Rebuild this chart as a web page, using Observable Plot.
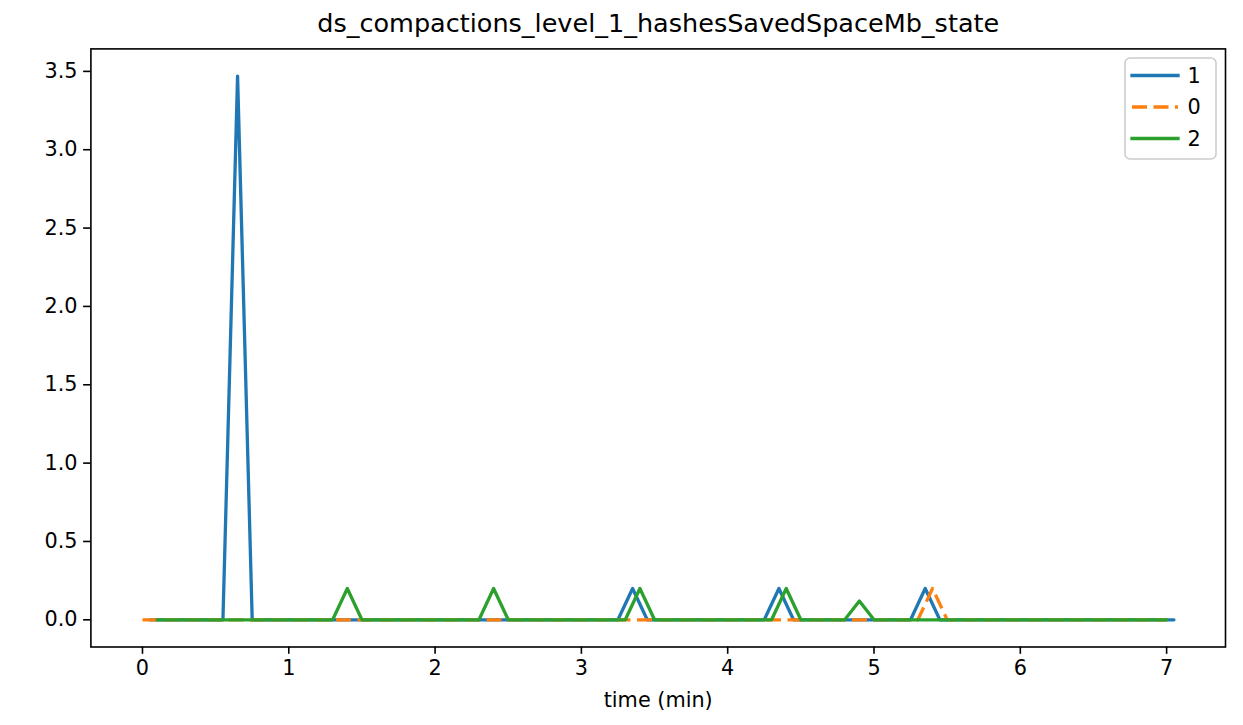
<!DOCTYPE html>
<html>
<head>
<meta charset="utf-8">
<script src="https://cdn.jsdelivr.net/npm/d3@7"></script>
<script src="https://cdn.jsdelivr.net/npm/@observablehq/plot@0.6"></script>
<style>
  html, body { margin: 0; padding: 0; background: white; }
  #chart svg { display: block; }
</style>
</head>
<body>
<div id="chart"></div>
<script>
// ---- data ----
const title = "ds_compactions_level_1_hashesSavedSpaceMb_state";
const xLabel = "time (min)";
const seriesNames = ["1", "0", "2"];
const seriesColors = ["#1f77b4", "#ff7f0e", "#2ca02c"];
const seriesDash = [null, "15,6.5", null];

// series "1" (breakpoints of the line)
const t1 = [0.05, 0.55, 0.65, 0.75, 3.25, 3.35, 3.45, 4.25, 4.35, 4.45, 5.25, 5.35, 5.45, 7.05];
const v1 = [0, 0, 3.47, 0, 0, 0.2, 0, 0, 0.2, 0, 0, 0.2, 0, 0];
// series "0"
const t0 = [0.0, 5.3, 5.4, 5.5, 7.0];
const v0 = [0, 0, 0.2, 0, 0];
// series "2"
const t2 = [0.1, 1.3, 1.4, 1.5, 2.3, 2.4, 2.5, 3.3, 3.4, 3.5, 4.3, 4.4, 4.5, 4.8, 4.9, 5.0, 7.0];
const v2 = [0, 0, 0.2, 0, 0, 0.2, 0, 0, 0.2, 0, 0, 0.2, 0, 0, 0.12, 0, 0];

const xTicks = [0, 1, 2, 3, 4, 5, 6, 7];
const yTicks = [0, 0.5, 1.0, 1.5, 2.0, 2.5, 3.0, 3.5];

// ---- build tables ----
const seriesT = [t1, t0, t2];
const seriesV = [v1, v0, v2];
const tables = seriesNames.map((name, i) =>
  seriesT[i].map((t, j) => ({series: name, t, v: seriesV[i][j]}))
);

const FONT = 20.8;
const LW = 3.3;

const chart = Plot.plot({
  width: 1243,
  height: 725,
  marginLeft: 90.4,
  marginRight: 18,
  marginTop: 48.4,
  marginBottom: 78.5,
  x: {domain: [-0.3525, 7.4025], label: null},
  y: {domain: [-0.1735, 3.6435], label: null},
  style: {fontFamily: "DejaVu Sans", fontSize: FONT + "px", color: "black", background: "white", overflow: "visible"},
  marks: [
    ...tables.map((data, i) => Plot.line(data, {
      x: "t", y: "v",
      stroke: seriesColors[i],
      strokeWidth: LW,
      strokeDasharray: seriesDash[i] || undefined,
      strokeLinecap: seriesDash[i] ? "butt" : "round",
      strokeLinejoin: "round"
    })),
    Plot.frame({stroke: "black", strokeWidth: 1.6}),
    Plot.axisX({ticks: xTicks, tickFormat: d3.format("d"), tickSize: 7.3, tickPadding: 6, strokeWidth: 1.6, label: null}),
    Plot.axisY({ticks: yTicks, tickFormat: d3.format(".1f"), tickSize: 7.3, tickPadding: 6, strokeWidth: 1.6, label: null}),
    Plot.text([xLabel], {text: d => d, frameAnchor: "bottom", dy: 59.8, fontSize: FONT, fill: "black"}),
    Plot.text([title], {text: d => d, frameAnchor: "top", dy: -35, fontSize: 25.5, fill: "black"})
  ]
});

document.getElementById("chart").appendChild(chart);

// ---- legend (top right, inside the frame) ----
const svg = d3.select(chart);
const lg = svg.append("g").attr("class", "legend");
lg.append("rect")
  .attr("x", 1125).attr("y", 58).attr("width", 91).attr("height", 101)
  .attr("rx", 5).attr("ry", 5)
  .attr("fill", "white").attr("fill-opacity", 0.8)
  .attr("stroke", "#cccccc").attr("stroke-width", 1.6);
const rowY = [75.5, 107, 138.5];
seriesNames.forEach((name, i) => {
  lg.append("line")
    .attr("x1", 1132).attr("x2", 1178)
    .attr("y1", rowY[i]).attr("y2", rowY[i])
    .attr("stroke", seriesColors[i])
    .attr("stroke-width", LW)
    .attr("stroke-dasharray", seriesDash[i])
    .attr("stroke-linecap", seriesDash[i] ? "butt" : "square");
  lg.append("text")
    .attr("x", 1194).attr("y", rowY[i])
    .attr("dy", "0.35em")
    .attr("font-family", "DejaVu Sans")
    .attr("font-size", FONT)
    .attr("fill", "black")
    .text(name);
});
</script>
</body>
</html>
